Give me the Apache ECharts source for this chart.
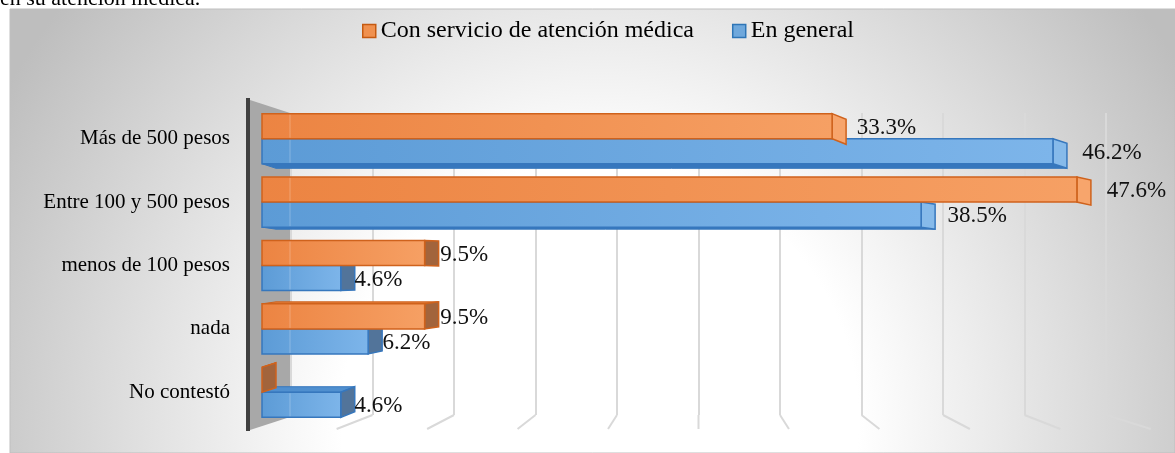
<!DOCTYPE html>
<html>
<head>
<meta charset="utf-8">
<script src="https://cdn.jsdelivr.net/npm/echarts@6/dist/echarts.min.js"></script>
<style>
  html, body { margin: 0; padding: 0; background: #fff; }
  #main { width: 1175px; height: 453px; }
</style>
</head>
<body>
<div id="main"></div>
<script>
// datos
var categories = ['Más de 500 pesos', 'Entre 100 y 500 pesos', 'menos de 100 pesos', 'nada', 'No contestó'];
var conServicio = [33.3, 47.6, 9.5, 9.5, 0];
var enGeneral = [46.2, 38.5, 4.6, 6.2, 4.6];
var gridTicks = [0, 5, 10, 15, 20, 25, 30, 35, 40, 45, 50];

var SERIF = 'Liberation Serif';

var naranja = {
  front: ['#EC8442', '#F6A064'], border: '#CF621C',
  capDark: '#A2643C', capLight: '#F7A56C', face: '#E07A38'
};
var azul = {
  front: ['#5C9BD6', '#7DB5EA'], border: '#3677BD',
  capDark: '#52749A', capLight: '#86BAEA', face: '#4F8FCF'
};

// barra "3D": cara frontal + tapa lateral + cara superior/inferior
function barRender(upper, col) {
  return function (params, api) {
    var v = api.value(0), cat = api.value(1);
    var p0 = api.coord([0, cat]);
    var p1 = api.coord([v, cat]);
    var band = api.size([0, 1])[1];
    var h = band * 0.395;
    var cs = params.coordSys;
    var y0 = upper ? p0[1] - h : p0[1];
    var y1 = y0 + h;
    var x0 = p0[0], x1 = p1[0];
    var mid = (y0 + y1) / 2;
    var eye = cs.y + cs.height * 0.5;
    var dx = 14, dy = (eye - mid) * 0.04;
    var children = [];
    var dark = x1 < cs.x + cs.width * 0.5;

    // cara superior (mitad inferior) o inferior (mitad superior)
    if (dy < 0) {
      children.push({
        type: 'polygon',
        shape: { points: [[x0, y0], [x1, y0], [x1 + dx, y0 + dy], [x0 + dx, y0 + dy]] },
        style: { fill: col.face, stroke: col.border, lineWidth: 1 }
      });
    } else if (!upper) {
      children.push({
        type: 'polygon',
        shape: { points: [[x0, y1], [x1, y1], [x1 + dx, y1 + dy], [x0 + dx, y1 + dy]] },
        style: { fill: col.border, stroke: col.border, lineWidth: 1 }
      });
    }
    // tapa del extremo
    children.push({
      type: 'polygon',
      shape: { points: [[x1, y0], [x1 + dx, y0 + dy], [x1 + dx, y1 + dy], [x1, y1]] },
      style: { fill: dark ? col.capDark : col.capLight, stroke: col.border, lineWidth: 1.5 }
    });
    // cara frontal
    if (x1 - x0 > 0.5) {
      children.push({
        type: 'rect',
        shape: { x: x0, y: y0, width: x1 - x0, height: h },
        style: {
          fill: new echarts.graphic.LinearGradient(0, 0, 1, 0, [
            { offset: 0, color: col.front[0] }, { offset: 1, color: col.front[1] }
          ]),
          stroke: col.border, lineWidth: 1.5
        }
      });
      // arista trasera tenue
      children.push({
        type: 'polyline',
        shape: { points: [[x0 + dx * 2, y0 + 1], [x0 + dx * 2, y1 - 1]] },
        style: { stroke: 'rgba(255,255,255,0.25)', lineWidth: 1 }
      });
    }
    if (v > 0) {
      children.push({
        type: 'text',
        style: {
          text: v.toFixed(1) + '%',
          x: x1 + 12 + (x1 - x0) * 0.022,
          y: mid + 1.5,
          verticalAlign: 'middle',
          fontFamily: SERIF,
          fontSize: 23,
          fill: '#111'
        },
        z2: 50
      });
    }
    return { type: 'group', children: children };
  };
}

// lineas del suelo (perspectiva) bajo la pared del fondo
function floorRender(params, api) {
  var p = api.coord([api.value(0), 0]);
  var c = api.coord([25, 0]);
  var fx = c[0] + (p[0] - c[0]) * 1.11;
  return {
    type: 'line',
    shape: { x1: p[0], y1: p[1], x2: fx, y2: p[1] + 14 },
    style: { stroke: '#d9d9d9', lineWidth: 2 }
  };
}

var chart = echarts.init(document.getElementById('main'));

chart.setOption({
  animation: false,
  backgroundColor: '#fff',
  textStyle: { fontFamily: SERIF },
  graphic: [
    {
      type: 'rect', z: -100,
      shape: { x: 10, y: 9, width: 1165, height: 444 },
      style: {
        fill: {
          type: 'radial', x: 600, y: 420, r: 680, global: true,
          colorStops: [
            { offset: 0, color: '#ffffff' },
            { offset: 0.38, color: '#ffffff' },
            { offset: 1, color: '#bebebe' }
          ]
        },
        stroke: '#bfbfbf', lineWidth: 1
      }
    },
    {
      type: 'text', z: 10,
      style: { text: 'en su atención médica.', x: 0, y: 10, verticalAlign: 'bottom', fontFamily: SERIF, fontSize: 22, fill: '#000' }
    },
    // pared lateral
    {
      type: 'polygon', z: 1,
      shape: { points: [[250, 100], [290, 113], [290, 417], [250, 430]] },
      style: { fill: '#a8a8a8' }
    },
    {
      type: 'rect', z: 1,
      shape: { x: 246, y: 98, width: 4, height: 333 },
      style: { fill: '#404040' }
    }
  ],
  legend: {
    left: 357, top: 14,
    itemWidth: 13, itemHeight: 13, itemGap: 38,
    icon: 'rect',
    formatter: '{t|{name}}',
    textStyle: {
      fontFamily: SERIF, fontSize: 24, color: '#000',
      rich: { t: { fontFamily: SERIF, fontSize: 24, color: '#000' } }
    },
    data: [
      { name: 'Con servicio de atención médica', itemStyle: { color: '#F0914F', borderColor: '#C55A11', borderWidth: 1.5 } },
      { name: 'En general', itemStyle: { color: '#6FA8DC', borderColor: '#2E75B6', borderWidth: 1.5 } }
    ]
  },
  grid: [
    { left: 262, width: 856, top: 107, height: 317 },
    { left: 291, width: 815, top: 113, height: 302 }
  ],
  xAxis: [
    { type: 'value', gridIndex: 0, min: 0, max: 50, show: false },
    {
      type: 'value', gridIndex: 1, min: 0, max: 50, interval: 5,
      axisLine: { show: false }, axisTick: { show: false }, axisLabel: { show: false },
      splitLine: { show: true, lineStyle: { color: '#d9d9d9', width: 2 } }
    }
  ],
  yAxis: [
    {
      type: 'category', gridIndex: 0, inverse: true, data: categories,
      axisLine: { show: false }, axisTick: { show: false }, splitLine: { show: false },
      axisLabel: { margin: 32, fontFamily: SERIF, fontSize: 21, color: '#000' }
    },
    { type: 'value', gridIndex: 1, min: 0, max: 1, show: false }
  ],
  series: [
    {
      name: 'suelo', type: 'custom', xAxisIndex: 1, yAxisIndex: 1, z: 0, silent: true,
      renderItem: floorRender,
      data: gridTicks.map(function (t) { return [t]; })
    },
    {
      name: 'Con servicio de atención médica', type: 'custom', z: 4,
      itemStyle: { color: '#F0914F', borderColor: '#C55A11' },
      renderItem: barRender(true, naranja),
      encode: { x: 0, y: 1 },
      data: conServicio.map(function (v, i) { return [v, i]; })
    },
    {
      name: 'En general', type: 'custom', z: 3,
      itemStyle: { color: '#6FA8DC', borderColor: '#2E75B6' },
      renderItem: barRender(false, azul),
      encode: { x: 0, y: 1 },
      data: enGeneral.map(function (v, i) { return [v, i]; })
    }
  ]
});
</script>
</body>
</html>
